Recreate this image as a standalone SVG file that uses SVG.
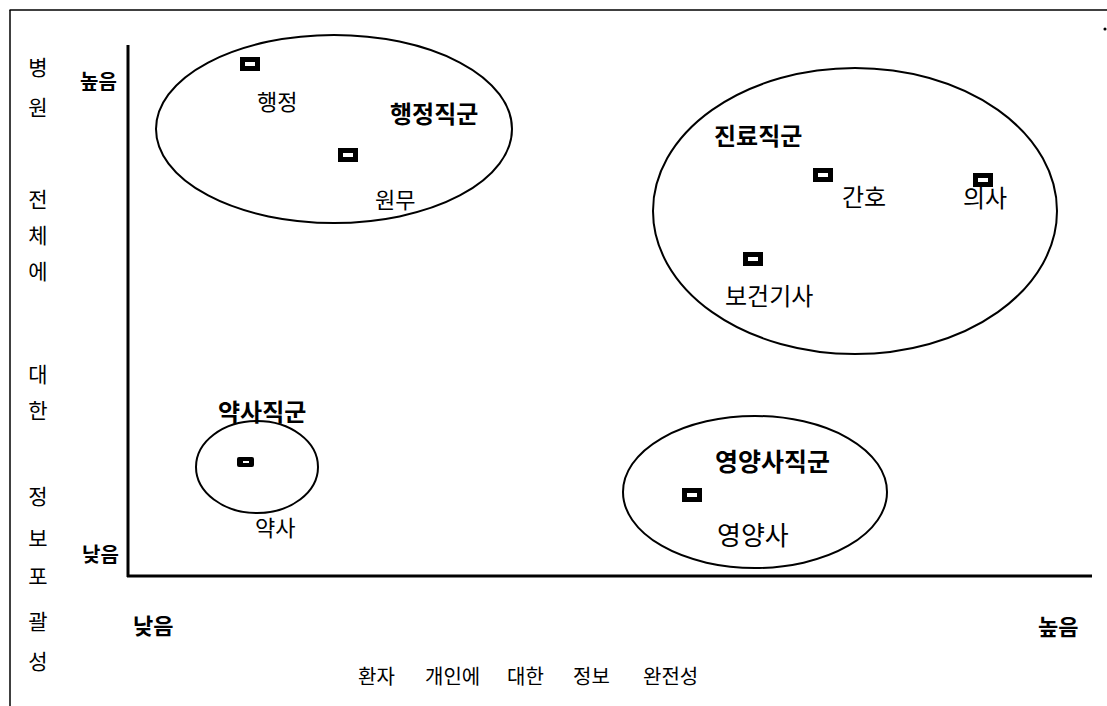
<svg xmlns="http://www.w3.org/2000/svg" width="1107" height="706" viewBox="0 0 1107 706">
<style>
text{font-family:"Noto Sans CJK KR","Noto Sans",sans-serif;fill:#000}
.lbl{font-size:22px}
.lbl24{font-size:24px}
.grp{font-size:24px;font-weight:bold}
.ax{font-size:20px;font-weight:bold}
.vl{font-size:21px;text-anchor:middle}
.ell{fill:none;stroke:#000;stroke-width:2}
.axis{stroke:#000;stroke-width:3;fill:none}
.frame{stroke:#000;stroke-width:1.5;fill:none}
</style>
<defs>
<g id="mk"><rect x="0" y="0" width="20" height="14" fill="#000"/><rect x="5" y="5" width="10" height="4" fill="#fff"/></g>
<g id="mks"><rect x="0" y="0" width="17" height="10" rx="2" fill="#000"/><rect x="6" y="4" width="6" height="2" fill="#fff"/></g>
</defs>
<rect width="1107" height="706" fill="#fff"/>
<g id="frame" class="frame">
<line x1="9.5" y1="10" x2="1107" y2="10"/>
<line x1="10" y1="10" x2="10" y2="706"/>
<circle cx="1105" cy="29" r="0.8" fill="#000"/>
</g>
<g id="axes" class="axis">
<line x1="128" y1="45" x2="128" y2="577"/>
<line x1="127" y1="576" x2="1092" y2="576"/>
</g>
<g id="y-label">
<text class="vl" x="38" y="75">병</text>
<text class="vl" x="38" y="115">원</text>
<text class="vl" x="38" y="207">전</text>
<text class="vl" x="38" y="243">체</text>
<text class="vl" x="38" y="279">에</text>
<text class="vl" x="38" y="382">대</text>
<text class="vl" x="38" y="418">한</text>
<text class="vl" x="38" y="504">정</text>
<text class="vl" x="38" y="546">보</text>
<text class="vl" x="38" y="584">포</text>
<text class="vl" x="38" y="629">괄</text>
<text class="vl" x="38" y="669">성</text>
</g>
<g id="y-high"><text class="ax" x="80" y="89">높음</text></g>
<g id="y-low"><text class="ax" x="82" y="562">낮음</text></g>
<g id="x-low"><text class="ax" x="133" y="634" style="font-size:22px">낮음</text></g>
<g id="x-high"><text class="ax" x="1038" y="635" style="font-size:22px">높음</text></g>
<g id="x-label"><text style="font-size:20px" y="684"><tspan x="358">환자</tspan><tspan x="425">개인에</tspan><tspan x="507">대한</tspan><tspan x="573">정보</tspan><tspan x="643">완전성</tspan></text></g>
<g id="admin-group">
<ellipse class="ell" cx="334" cy="129" rx="178" ry="94"/>
<text class="grp" x="390" y="123">행정직군</text>
</g>
<g id="admin"><use href="#mk" x="240" y="57"/><text class="lbl" x="257" y="110">행정</text></g>
<g id="wonmu"><use href="#mk" x="338" y="148"/><text class="lbl" x="375" y="208">원무</text></g>
<g id="clinical-group">
<ellipse class="ell" cx="855" cy="211" rx="202" ry="143"/>
<text class="grp" x="714" y="145">진료직군</text>
</g>
<g id="nurse"><use href="#mk" x="813" y="168"/><text class="lbl24" x="842" y="206">간호</text></g>
<g id="doctor"><text class="lbl24" x="963" y="207">의사</text><use href="#mk" x="973" y="173"/></g>
<g id="health-tech"><use href="#mk" x="743" y="252"/><text class="lbl24" x="725" y="305">보건기사</text></g>
<g id="pharm-group">
<ellipse class="ell" cx="257" cy="467" rx="61" ry="46"/>
<text class="grp" x="218" y="421">약사직군</text>
</g>
<g id="pharmacist"><use href="#mks" x="237" y="457"/><text class="lbl" x="255" y="536">약사</text></g>
<g id="diet-group">
<ellipse class="ell" cx="755" cy="492" rx="132" ry="76"/>
<text class="grp" x="715" y="471" style="font-size:25px">영양사직군</text>
</g>
<g id="dietitian"><use href="#mk" x="682" y="488"/><text class="lbl" x="717" y="545" style="font-size:26px">영양사</text></g>
</svg>
